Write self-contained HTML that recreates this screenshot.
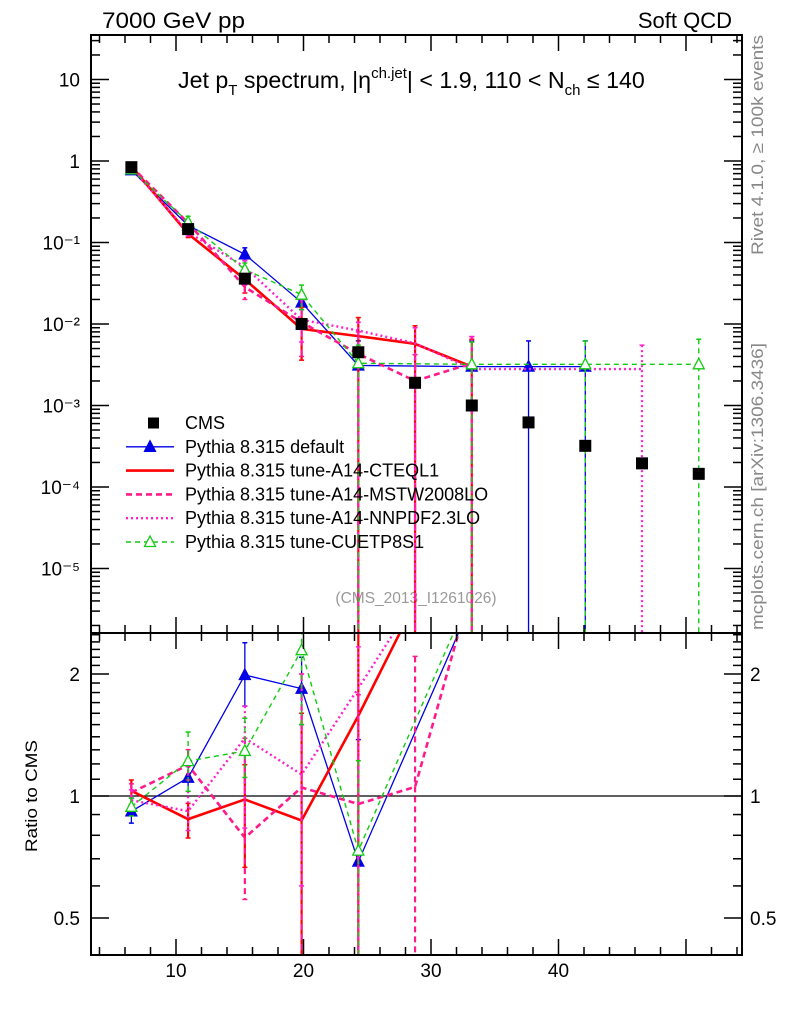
<!DOCTYPE html>
<html><head><meta charset="utf-8">
<style>
html,body{margin:0;padding:0;background:#fff;overflow:hidden;width:786px;height:1024px;}
svg{display:block;font-family:"Liberation Sans",sans-serif;}
</style></head>
<body>
<svg id="chart" width="786" height="1024" viewBox="0 0 786 1024" xmlns="http://www.w3.org/2000/svg" overflow="hidden">
  <text x="102" y="28" font-size="22" textLength="143" lengthAdjust="spacingAndGlyphs">7000 GeV pp</text>
  <text x="732" y="28" font-size="22" text-anchor="end">Soft QCD</text>
  <text x="178" y="88" font-size="23.2">Jet p<tspan font-size="15" dy="7">T</tspan><tspan dy="-7"> spectrum, |η</tspan><tspan font-size="15" dy="-10">ch.jet</tspan><tspan dy="10">| &lt; 1.9, 110 &lt; N</tspan><tspan font-size="15" dy="7">ch</tspan><tspan dy="-7"> ≤ 140</tspan></text>
  <text transform="translate(763,255) rotate(-90)" font-size="17" fill="#888" textLength="220" lengthAdjust="spacingAndGlyphs">Rivet 4.1.0, ≥ 100k events</text>
  <text transform="translate(763,630) rotate(-90)" font-size="17" fill="#888" textLength="287" lengthAdjust="spacingAndGlyphs">mcplots.cern.ch [arXiv:1306.3436]</text>
  <text x="416" y="603" font-size="15.5" fill="#999" text-anchor="middle">(CMS_2013_I1261026)</text>
  <text transform="translate(37,796) rotate(-90)" font-size="17" text-anchor="middle" textLength="112" lengthAdjust="spacingAndGlyphs">Ratio to CMS</text>
  <g id="marks"></g>
  <g id="frames"></g>
</svg>
<script>
const xs = [6.5, 10.95, 15.4, 19.85, 24.3, 28.75, 33.2, 37.65, 42.1, 46.55, 51.0];
const cmsVals = [0.84, 0.146, 0.036, 0.0100, 0.0045, 0.0019, 0.0010, 0.00062, 0.00032, 0.000195, 0.000145];
const defVals = [0.77, 0.162, 0.0716, 0.0184, 0.0031, null, 0.003, 0.003, 0.003];
const defHi = [0.83, 0.18, 0.086, 0.022, 0.0062, 0, 0.0062, 0.0062, 0.0062];
const defLo = [0.72, 0.15, 0.06, 0.015, 0, 0, 0, 0, 0];
const cteqVals = [0.865, 0.128, 0.0353, 0.0087, 0.0071, 0.0057, 0.003];
const cteqHi = [0.92, 0.14, 0.043, 0.016, 0.012, 0.0095, 0.0065];
const cteqLo = [0.80, 0.115, 0.024, 0.0036, 0, 0, 0];
const mstwVals = [0.857, 0.174, 0.0284, 0.0105, 0.0043, 0.0020, 0.0033];
const mstwHi = [0.9, 0.19, 0.05, 0.02, 0.008, 0.0042, 0.007];
const mstwLo = [0.8, 0.16, 0.020, 0.004, 0, 0, 0];
const nnVals = [0.82, 0.134, 0.050, 0.0113, 0.0083, 0.0058, 0.0028, null, null, 0.0028];
const nnHi = [0.87, 0.15, 0.06, 0.02, 0.0105, 0.009, 0.007, 0, 0, 0.0055];
const nnLo = [0.77, 0.12, 0.03, 0.006, 0, 0, 0, 0, 0, 0];
const grVals = [0.79, 0.178, 0.0465, 0.0229, 0.0033, null, 0.0032, null, 0.0032, null, 0.0032];
const grHi = [0.83, 0.21, 0.056, 0.03, 0.0055, 0, 0.006, 0, 0.0062, 0, 0.0065];
const grLo = [0.75, 0.15, 0.04, 0.015, 0, 0, 0, 0, 0, 0, 0];
const mainTicks = [10, 1, 0.1, 0.01, 0.001, 0.0001, 0.00001];
const mainTickLabels = ["10", "1", "10⁻¹", "10⁻²", "10⁻³", "10⁻⁴", "10⁻⁵"];
const ratioTicks = [2, 1, 0.5];
const xTicks = [10, 20, 30, 40];

const NS = "http://www.w3.org/2000/svg";
const L = 91, R = 742, T1 = 35, B1 = 633, T2 = 633, B2 = 955;
const X = v => 176 + (v - 10) * 12.75;
const Y = v => 161 - Math.log10(v) * 81.5;
const YR = r => 796 - Math.log2(r) * 122;
const marks = document.getElementById('marks');
const frames = document.getElementById('frames');
function el(tag, attrs, parent) {
  const e = document.createElementNS(NS, tag);
  for (const k in attrs) e.setAttribute(k, attrs[k]);
  (parent || marks).appendChild(e);
  return e;
}
const defs = el('defs', {});
const c1 = el('clipPath', {id: 'c1'}, defs); el('rect', {x: L, y: T1, width: R - L, height: B1 - T1}, c1);
const c2 = el('clipPath', {id: 'c2'}, defs); el('rect', {x: L, y: T2, width: R - L, height: B2 - T2}, c2);
const g1 = el('g', {'clip-path': 'url(#c1)'});


const g2 = el('g', {'clip-path': 'url(#c2)'});


el('line', {x1: L, x2: R, y1: YR(1), y2: YR(1), stroke: '#000', 'stroke-width': 1.2}, g2);

const series = [
  {name: 'default', vals: defVals, hi: defHi, lo: defLo, color: '#0000e6', w: 1.3, dash: '', marker: 'tri'},
  {name: 'cteql1', vals: cteqVals, hi: cteqHi, lo: cteqLo, color: '#ff0000', w: 2.6, dash: '', marker: ''},
  {name: 'mstw', vals: mstwVals, hi: mstwHi, lo: mstwLo, color: '#ff1a8c', w: 2.6, dash: '6,4', marker: ''},
  {name: 'nnpdf', vals: nnVals, hi: nnHi, lo: nnLo, color: '#ff22cc', w: 2.4, dash: '2,3', marker: ''},
  {name: 'cuetp8s1', vals: grVals, hi: grHi, lo: grLo, color: '#11cc11', w: 1.4, dash: '5,4', marker: 'otri'}
];
function tri(g, x, y, c, open) {
  el('polygon', {points: `${x},${y-6} ${x-5.5},${y+4.5} ${x+5.5},${y+4.5}`, fill: open ? '#fff' : c, stroke: c, 'stroke-width': 1.3}, g);
}
series.forEach(s => {
  for (const [g, fy, isR] of [[g1, Y, false], [g2, YR, true]]) {
    const sg = el('g', {}, g);
    
    
    const v = i => isR ? s.vals[i] / cmsVals[i] : s.vals[i];
    const idx = s.vals.map((_, i) => i).filter(i => s.vals[i] !== null);
    const pts = idx.map(i => `${X(xs[i])},${fy(v(i))}`).join(' ');
    el('polyline', {points: pts, fill: 'none', stroke: s.color, 'stroke-width': s.w, 'stroke-dasharray': s.dash}, sg);
    idx.forEach(i => {
      if (isR && fy(v(i)) < T2) return;
      const hi = isR ? s.hi[i] / cmsVals[i] : s.hi[i];
      const lo = s.lo[i] > 0 ? (isR ? s.lo[i] / cmsVals[i] : s.lo[i]) : 0;
      const yh = fy(hi), yl = lo > 0 ? fy(lo) : (isR ? B2 : B1);
      el('line', {x1: X(xs[i]), x2: X(xs[i]), y1: yh, y2: yl, stroke: s.color, 'stroke-width': Math.min(s.w, 2.2), 'stroke-dasharray': s.dash}, sg);
      el('line', {x1: X(xs[i]) - 2.5, x2: X(xs[i]) + 2.5, y1: yh, y2: yh, stroke: s.color, 'stroke-width': 1.5}, sg);
      if (lo > 0) el('line', {x1: X(xs[i]) - 2.5, x2: X(xs[i]) + 2.5, y1: yl, y2: yl, stroke: s.color, 'stroke-width': 1.5}, sg);
      if (s.marker) tri(sg, X(xs[i]), fy(v(i)), s.color, s.marker === 'otri');
    });
  }
});
cmsVals.forEach((v, i) => {
  const r = el('rect', {x: X(xs[i]) - 6, y: Y(v) - 6, width: 12, height: 12, fill: '#000'}, g1);
  
  
});

const leg = el('g', {});


const legItems = [['CMS', ''], ['Pythia 8.315 default', 0], ['Pythia 8.315 tune-A14-CTEQL1', 1], ['Pythia 8.315 tune-A14-MSTW2008LO', 2], ['Pythia 8.315 tune-A14-NNPDF2.3LO', 3], ['Pythia 8.315 tune-CUETP8S1', 4]];
legItems.forEach((it, k) => {
  const y = 423 + k * 23.8;
  const e = el('g', {}, leg);
  
  
  if (it[1] === '') el('rect', {x: 148, y: y - 5.5, width: 11, height: 11, fill: '#000'}, e);
  else {
    const s = series[it[1]];
    el('line', {x1: 126, x2: 174, y1: y, y2: y, stroke: s.color, 'stroke-width': s.w, 'stroke-dasharray': s.dash}, e);
    if (s.marker) tri(e, 150, y, s.color, s.marker === 'otri');
  }
  const t = el('text', {x: 185, y: y + 6, 'font-size': 18}, e);
  t.textContent = it[0];
});

function frame(t, b) { el('rect', {x: L, y: t, width: R - L, height: b - t, fill: 'none', stroke: '#000', 'stroke-width': 2}, frames); }
frame(T1, B1); frame(T2, B2);
for (let v = 4; v <= 54; v += 2) {
  const big = v % 10 === 0, len = big ? 16 : 8;
  for (const [yt, yb] of [[T1, B1], [T2, B2]]) {
    el('line', {x1: X(v), x2: X(v), y1: yt, y2: yt + len, stroke: '#000', 'stroke-width': 1.5}, frames);
    el('line', {x1: X(v), x2: X(v), y1: yb, y2: yb - len, stroke: '#000', 'stroke-width': 1.5}, frames);
  }
}
xTicks.forEach(v => {
  const t = el('text', {x: X(v), y: 977, 'font-size': 19, 'text-anchor': 'middle'}, frames);
  
  
  t.textContent = v;
});
for (let e = -6; e <= 1; e++) for (let m = 1; m <= 9; m++) {
  const v = m * Math.pow(10, e), y = Y(v);
  if (y < T1 || y > B1) continue;
  const len = m === 1 ? 18 : 9;
  el('line', {x1: L, x2: L + len, y1: y, y2: y, stroke: '#000', 'stroke-width': 1.5}, frames);
  el('line', {x1: R, x2: R - len, y1: y, y2: y, stroke: '#000', 'stroke-width': 1.5}, frames);
}
mainTicks.forEach((v, i) => {
  const t = el('text', {x: 80, y: Y(v) + 7, 'font-size': 19, 'text-anchor': 'end'}, frames);
  
  
  t.textContent = mainTickLabels[i];
});
for (let r = 0.4; r <= 2.6; r += 0.1) {
  const y = YR(r);
  if (y < T2 || y > B2) continue;
  const major = Math.abs(r - 0.5) < 1e-6 || Math.abs(r - 1) < 1e-6 || Math.abs(r - 2) < 1e-6;
  const len = major ? 18 : 9;
  el('line', {x1: L, x2: L + len, y1: y, y2: y, stroke: '#000', 'stroke-width': 1.5}, frames);
  el('line', {x1: R, x2: R - len, y1: y, y2: y, stroke: '#000', 'stroke-width': 1.5}, frames);
}
ratioTicks.forEach(v => {
  for (const [x, a] of [[80, 'end'], [750, 'start']]) {
    const t = el('text', {x: x, y: YR(v) + 7, 'font-size': 19, 'text-anchor': a}, frames);
    
    
    t.textContent = v;
  }
});
</script>
</body></html>
